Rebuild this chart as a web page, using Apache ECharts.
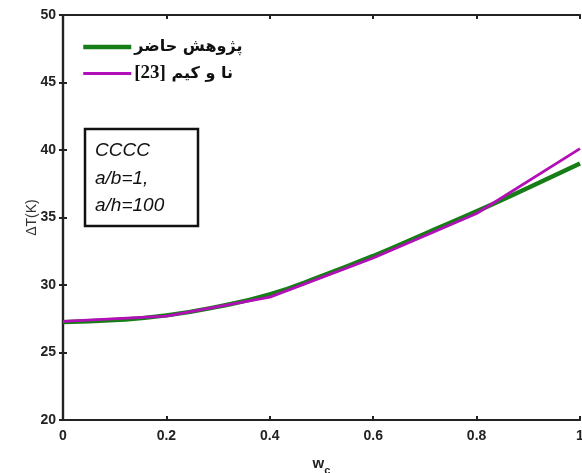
<!DOCTYPE html>
<html>
<head>
<meta charset="utf-8">
<script src="https://cdn.jsdelivr.net/npm/echarts@6/dist/echarts.min.js"></script>
<style>
html,body{margin:0;padding:0;background:#fff;}
#chart{width:582px;height:473px;}
</style>
</head>
<body>
<div id="chart"></div>
<script>
// Data
const xPresent = [0, 0.1, 0.2, 0.3, 0.4, 0.5, 0.6, 0.7, 0.8, 0.9, 1.0];
const yPresent = [27.25, 27.4, 27.75, 28.4, 29.3, 30.65, 32.15, 33.8, 35.45, 37.2, 39.0];
const xRef = [0, 0.2, 0.4, 0.6, 0.8, 1.0];
const yRef = [27.3, 27.7, 29.1, 32.0, 35.3, 40.1];
const seriesNames = ['پژوهش حاضر', 'نا و کیم [23]'];
const boxLines = ['CCCC', 'a/b=1,', 'a/h=100'];
const xTicks = [0, 0.2, 0.4, 0.6, 0.8, 1];
const yTicks = [20, 25, 30, 35, 40, 45, 50];

const chart = echarts.init(document.getElementById('chart'), null, {renderer: 'canvas'});
const axisLine = {show: true, lineStyle: {color: '#222', width: 2.2}};
const tickStyle = {show: true, inside: true, length: 4, lineStyle: {color: '#222', width: 2}};
const labelFont = {fontFamily: 'Liberation Sans, Arial, sans-serif', fontWeight: 'bold', fontSize: 14, color: '#222'};

const option = {
  animation: false,
  backgroundColor: '#fff',
  grid: {left: 63, right: 2, top: 15, bottom: 53, containLabel: false, outerBoundsMode: 'none'},
  legend: {
    left: 76, top: 34, orient: 'vertical', itemWidth: 48, itemHeight: 14, itemGap: 9,
    data: [
      {name: seriesNames[0], lineStyle: {width: 4.5, color: '#177d17'}, itemStyle: {opacity: 0}},
      {name: seriesNames[1], lineStyle: {width: 2.8, color: '#b30fb8'}, itemStyle: {opacity: 0}}
    ],
    formatter: function (name) {
      if (name === seriesNames[1]) return '{r|[23]}{p| نا و کیم}';
      return '{p|' + name + '}';
    },
    textStyle: {
      padding: [0, 0, 0, -2],
      rich: {
        p: {fontFamily: 'DejaVu Sans, Noto Sans, sans-serif', fontWeight: 'bold', fontSize: 16, color: '#111', lineHeight: 16},
        r: {fontFamily: 'Liberation Serif, Times New Roman, serif', fontWeight: 'bold', fontSize: 19, color: '#111', lineHeight: 16}
      }
    }
  },
  xAxis: [{
    type: 'value', min: xTicks[0], max: xTicks[xTicks.length - 1], interval: 0.2,
    name: '{w|w}{c|c}', nameLocation: 'middle', nameGap: 36, nameMoveOverlap: false,
    nameTextStyle: {rich: {
      w: {fontFamily: 'Liberation Sans, Arial', fontWeight: 'bold', fontSize: 15, color: '#222', verticalAlign: 'top'},
      c: {fontFamily: 'Liberation Sans, Arial', fontWeight: 'bold', fontSize: 11, color: '#222', padding: [9, 0, 0, 0], verticalAlign: 'top'}
    }},
    axisLine: axisLine, axisTick: tickStyle, splitLine: {show: false},
    axisLabel: Object.assign({margin: 9}, labelFont)
  }, {
    type: 'value', position: 'top', min: 0, max: 1, interval: 0.2,
    axisLine: axisLine, axisTick: tickStyle, splitLine: {show: false}, axisLabel: {show: false}
  }],
  yAxis: [{
    type: 'value', min: yTicks[0], max: yTicks[yTicks.length - 1], interval: 5,
    name: 'ΔT(K)', nameLocation: 'middle', nameGap: 24, nameMoveOverlap: false,
    nameTextStyle: {fontFamily: 'Liberation Sans, Arial', fontSize: 14, color: '#333'},
    axisLine: axisLine, axisTick: tickStyle, splitLine: {show: false},
    axisLabel: Object.assign({margin: 7}, labelFont)
  }, {
    type: 'value', position: 'right', min: 20, max: 50, interval: 5,
    axisLine: axisLine, axisTick: tickStyle, splitLine: {show: false}, axisLabel: {show: false}
  }],
  graphic: [
    {type: 'rect', shape: {x: 85, y: 129, width: 113, height: 97}, style: {fill: '#fff', stroke: '#111', lineWidth: 2.5}, z: 10},
    {type: 'text', left: 95, top: 137, z: 11, style: {
      text: boxLines.join('\n'), font: 'italic 19px Liberation Sans, Arial, sans-serif', fill: '#111', lineHeight: 27.5
    }}
  ],
  series: [
    {name: seriesNames[0], type: 'line', smooth: true, symbol: 'none',
     data: xPresent.map((x, i) => [x, yPresent[i]]),
     lineStyle: {width: 4.5, color: '#177d17'}, itemStyle: {color: '#177d17'}, z: 2},
    {name: seriesNames[1], type: 'line', smooth: false, symbol: 'none',
     data: xRef.map((x, i) => [x, yRef[i]]),
     lineStyle: {width: 2.8, color: '#b30fb8'}, itemStyle: {color: '#b30fb8'}, z: 3}
  ]
};
chart.setOption(option);
</script>
</body>
</html>
